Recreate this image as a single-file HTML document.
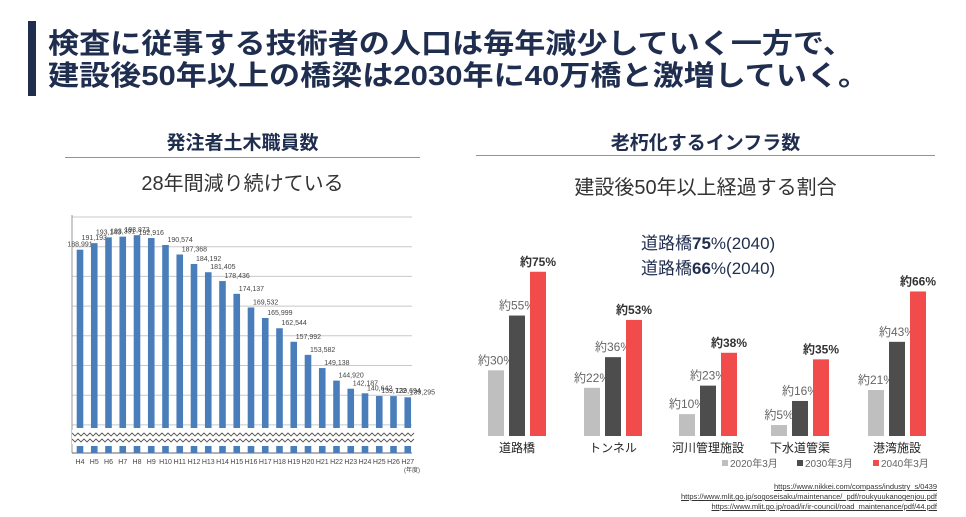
<!DOCTYPE html>
<html><head><meta charset="utf-8">
<style>
body{margin:0;width:966px;height:517px;background:#fff;overflow:hidden;position:relative;font-family:"Liberation Sans","Noto Sans CJK JP",sans-serif;color:#1f2d4f}
.abs{position:absolute;white-space:nowrap}
</style></head><body>
<div class="abs" style="left:28px;top:21px;width:8px;height:75px;background:#1f2d4f"></div>
<div class="abs" style="left:48px;top:28px;font-size:28px;font-weight:bold;line-height:32px;color:#1f2d4f;transform:scaleX(1.11);transform-origin:left top">検査に従事する技術者の人口は毎年減少していく一方で、<br>建設後50年以上の橋梁は2030年に40万橋と激増していく。</div>

<div class="abs" style="left:65px;width:355px;top:128px;text-align:center;font-size:19px;font-weight:bold">発注者土木職員数</div>
<div class="abs" style="left:65px;top:157px;width:355px;height:1px;background:#8a93a8"></div>
<div class="abs" style="left:65px;width:355px;top:167px;text-align:center;font-size:20px;color:#333">28年間減り続けている</div>

<div class="abs" style="left:476px;width:459px;top:128px;text-align:center;font-size:19px;font-weight:bold">老朽化するインフラ数</div>
<div class="abs" style="left:476px;top:155px;width:459px;height:1px;background:#8a93a8"></div>
<div class="abs" style="left:476px;width:459px;top:171px;text-align:center;font-size:20px;color:#333">建設後50年以上経過する割合</div>

<div class="abs" style="left:641px;top:231px;font-size:17px;line-height:25px;color:#1f2d4f">道路橋<b>75</b>%(2040)<br>道路橋<b>66</b>%(2040)</div>

<svg id="lc" class="abs" style="left:0;top:0" width="966" height="517"></svg>
<svg id="rc" class="abs" style="left:0;top:0" width="966" height="517"></svg>

<div class="abs" style="right:29px;top:482px;text-align:right;font-size:7.5px;line-height:10px;color:#333;text-decoration:underline">https://www.nikkei.com/compass/industry_s/0439<br>https://www.mlit.go.jp/sogoseisaku/maintenance/_pdf/roukyuukanogenjou.pdf<br>https://www.mlit.go.jp/road/ir/ir-council/road_maintenance/pdf/44.pdf</div>

<script>
const years=["H4","H5","H6","H7","H8","H9","H10","H11","H12","H13","H14","H15","H16","H17","H18","H19","H20","H21","H22","H23","H24","H25","H26","H27"];
const staff=[188991,191193,193143,193391,193873,192916,190574,187368,184192,181405,178436,174137,169532,165999,162544,157992,153582,149138,144920,142187,140642,139722,139694,139295];
const gridVals=[200000,190000,180000,170000,160000,150000,140000,130000];

const categories=["道路橋","トンネル","河川管理施設","下水道管渠","港湾施設"];
const s2020=[30,22,10,5,21];
const s2030=[55,36,23,16,43];
const s2040=[75,53,38,35,66];
const seriesNames=["2020年3月","2030年3月","2040年3月"];

const NS="http://www.w3.org/2000/svg";
function mk(svg,tag,attrs,text){const e=document.createElementNS(NS,tag);for(const k in attrs)e.setAttribute(k,attrs[k]);if(text!==undefined)e.textContent=text;svg.appendChild(e);return e;}

// left chart
const lc=document.getElementById('lc');
const yL=v=>217+(200000-v)*0.00297;
const xL=i=>80+i*14.25;
const base=428;
gridVals.forEach(g=>{const y=yL(g);if(y<=base){const l=mk(lc,'line',{x1:72,x2:412,y1:y,y2:y,stroke:'#c8c8c8','stroke-width':1});

}});
mk(lc,'line',{x1:72,x2:72,y1:215,y2:453,stroke:'#999'});
mk(lc,'line',{x1:72,x2:412,y1:453,y2:453,stroke:'#666'});
staff.forEach((v,i)=>{
 const x=xL(i);const y=yL(v);
 const b=mk(lc,'rect',{x:x-3.3,y:y,width:6.6,height:base-y,fill:'#4a7ebb'});
 
 
 const s=mk(lc,'rect',{x:x-3.3,y:446,width:6.6,height:7,fill:'#4a7ebb'});
 
 
 const t=mk(lc,'text',{x:x+(i<6?0:2),y:y-3,'font-size':7,fill:'#444','text-anchor':i<6?'middle':'start'},v.toLocaleString('en-US'));
 
 
 const tl=mk(lc,'text',{x:x,y:464,'font-size':7,fill:'#444','text-anchor':'middle'},years[i]);
 
 
});
mk(lc,'rect',{x:72,y:430,width:342,height:14,fill:'#fff'});
for(let r=0;r<2;r++){let d='M72 '+(433+r*6);for(let x=72;x<414;x+=6){d+=' L'+(x+3)+' '+(436+r*6)+' L'+(x+6)+' '+(433+r*6);}
 const z=mk(lc,'path',{d:d,fill:'none',stroke:'#555','stroke-width':0.9});
 
 }
const yu=mk(lc,'text',{x:404,y:472,'font-size':6,fill:'#444'},'(年度)');



// right chart
const rc=document.getElementById('rc');
const yR=v=>436-v*2.19;
const centers=[517,613,708,800,897];
const xR=i=>centers[i];
const cols=['#bfbfbf','#4d4d4d','#f24b4b'];
const data=[s2020,s2030,s2040];
categories.forEach((c,i)=>{
 data.forEach((s,k)=>{
  const cx=xR(i)+(k-1)*21;const y=yR(s[i]);
  const b=mk(rc,'rect',{x:cx-8,y:y,width:16,height:436-y,fill:cols[k]});
  
  
  const t=mk(rc,'text',{x:cx,y:y-6,'font-size':12,'font-weight':k==2?'bold':'normal',fill:k==2?'#333':'#666','text-anchor':'middle'},'約'+s[i]+'%');
  
  
 });
 const l=mk(rc,'text',{x:xR(i),y:452,'font-size':12,fill:'#222','text-anchor':'middle'},c);
 
 
});
const lx=[722,797,873];
seriesNames.forEach((n,k)=>{
 const g=mk(rc,'g',{});
 
 
 mk(g,'rect',{x:lx[k],y:460,width:6,height:6,fill:cols[k]});
 mk(g,'text',{x:lx[k]+8,y:467,'font-size':10,fill:'#666'},n);
});
</script>
</body></html>
